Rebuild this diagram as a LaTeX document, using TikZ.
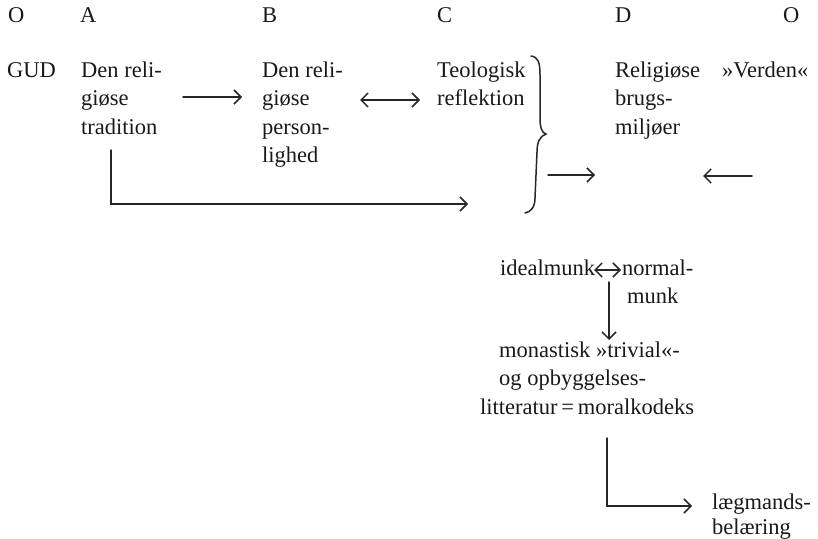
\documentclass[tikz,border=0pt]{standalone}
\usepackage{fontspec}
\setmainfont{Liberation Serif}
\usetikzlibrary{arrows.meta}
\tikzset{
  lbl/.style={anchor=base west, inner sep=0pt, align=left,
    font=\fontsize{22.5}{28.5}\selectfont, text=black!90},
  tip/.tip={Straight Barb[length=7pt,width=14pt]},
  conn/.style={line width=1.5pt, draw=black!85, line cap=round, -tip},
  dconn/.style={line width=1.5pt, draw=black!85, line cap=round, tip-tip},
  bracestyle/.style={line width=1.5pt, draw=black!85, line cap=round}
}
\begin{document}
\begin{tikzpicture}[x=1pt,y=-1pt]
\useasboundingbox (0,0) rectangle (818,538);
% header row
\node[lbl] (O1) at (8,22) {O};
\node[lbl] (hA) at (80,22) {A};
\node[lbl] (hB) at (262,22) {B};
\node[lbl] (hC) at (437,22) {C};
\node[lbl] (hD) at (615,22) {D};
\node[lbl] (O2) at (783,22) {O};
% main row (anchor = baseline of the last line)
\node[lbl] (gud) at (7,77) {GUD};
\node[lbl] (tradA) at (81,134) {Den reli-\\giøse\\tradition};
\node[lbl] (persB) at (262,162.5) {Den reli-\\giøse\\person-\\lighed};
\node[lbl] (teolC) at (437,105.5) {Teologisk\\reflektion};
\node[lbl] (brugD) at (615,134) {Religiøse\\brugs-\\miljøer};
\node[lbl] (verden) at (722,77) {»Verden«};
% lower part
\node[lbl] (ideal) at (500,275) {idealmunk};
\node[lbl] (normal) at (622,303.5) {normal-\\\hspace*{5pt}munk};
\node[lbl] (mona) at (480,414) {\hspace*{19pt}monastisk »trivial«-\\\hspace*{19pt}og opbyggelses-\\litteratur\,=\,moralkodeks};
\node[lbl, font=\fontsize{22.5}{25}\selectfont] (laeg) at (712,534) {lægmands-\\belæring};
% connector coordinates
\coordinate (ab1) at (183,97);
\coordinate (ab2) at (242,97);
\coordinate (bc1) at (360,100);
\coordinate (bc2) at (420,100);
\coordinate (bd1) at (548,175);
\coordinate (bd2) at (595,175);
\coordinate (od1) at (752,176);
\coordinate (od2) at (703,176);
\coordinate (ac1) at (111,150);
\coordinate (ac2) at (111,204);
\coordinate (ac3) at (468,204);
\coordinate (in1) at (594,270);
\coordinate (in2) at (621,270);
\coordinate (nm1) at (609,282);
\coordinate (nm2) at (609,340);
\coordinate (ml1) at (607,438);
\coordinate (ml2) at (607,506);
\coordinate (ml3) at (692,506);
% connectors
\draw[conn] (ab1) -- (ab2);
\draw[dconn] (bc1) -- (bc2);
\draw[conn] (bd1) -- (bd2);
\draw[conn] (od1) -- (od2);
\draw[conn] (ac1) -- (ac2) -- (ac3);
\draw[dconn] (in1) -- (in2);
\draw[conn] (nm1) -- (nm2);
\draw[conn] (ml1) -- (ml2) -- (ml3);
% brace
\draw[bracestyle] (531,56) .. controls (538,57) and (540,62) .. (540,75)
  -- (540,118) .. controls (540,128) and (542,133) .. (546,134)
  .. controls (540,136) and (537,142) .. (537,152)
  -- (535,198) .. controls (535,207) and (531,212) .. (525,213);
\end{tikzpicture}
\end{document}
